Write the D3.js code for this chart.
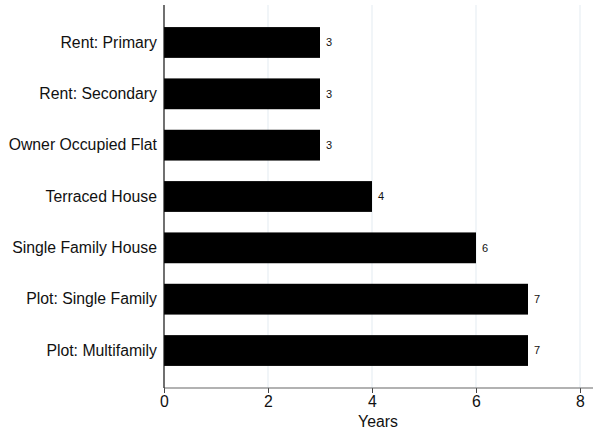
<!DOCTYPE html>
<html>
<head>
<meta charset="utf-8">
<script src="https://cdn.jsdelivr.net/npm/d3@7"></script>
<style>
  body { margin: 0; background: #fff; }
  text { font-family: "Liberation Sans", Arial, sans-serif; fill: #111; }
</style>
</head>
<body>
<svg id="chart" width="594" height="432"></svg>
<script>
// categories and years
var categories = ["Rent: Primary", "Rent: Secondary", "Owner Occupied Flat", "Terraced House",
                  "Single Family House", "Plot: Single Family", "Plot: Multifamily"];
var years = [3, 3, 3, 4, 6, 7, 7];
var xTicks = [0, 2, 4, 6, 8];

var svg = d3.select("#chart");
// plot edges (note: "top" is taken by window.top)
var plotLeft = 164, plotRight = 594, plotTop = 5, plotBottom = 388;

var x = d3.scaleLinear().domain([0, 8]).range([plotLeft, 580]);
var y = d3.scaleBand().domain(categories).range([plotTop, plotBottom])
  .paddingInner(0.4).paddingOuter(0.43);

// light vertical gridlines
svg.append("g").selectAll("line")
  .data(xTicks.filter(function(d) { return d > 0; }))
  .enter().append("line")
  .attr("x1", function(d) { return x(d); })
  .attr("x2", function(d) { return x(d); })
  .attr("y1", plotTop).attr("y2", plotBottom)
  .attr("stroke", "#e8eff3").attr("stroke-width", 1.2);

// bars
svg.append("g").selectAll("rect")
  .data(categories)
  .enter().append("rect")
  .attr("x", x(0))
  .attr("y", function(d) { return y(d); })
  .attr("width", function(d, i) { return x(years[i]) - x(0); })
  .attr("height", y.bandwidth())
  .attr("fill", "#000");

// value labels
svg.append("g").selectAll("text")
  .data(categories)
  .enter().append("text")
  .attr("x", function(d, i) { return x(years[i]) + 6; })
  .attr("y", function(d) { return y(d) + y.bandwidth() / 2; })
  .attr("dy", "0.35em")
  .style("font-size", "11px")
  .text(function(d, i) { return years[i]; });

// x axis
var xAxis = svg.append("g")
  .attr("transform", "translate(0," + plotBottom + ")")
  .call(d3.axisBottom(x).tickValues(xTicks).tickSize(5).tickPadding(3));
xAxis.select(".domain").remove();
xAxis.append("line")
  .attr("x1", plotLeft).attr("x2", 593).attr("y1", 0).attr("y2", 0)
  .attr("stroke", "#666").attr("stroke-width", 1.2);
xAxis.selectAll(".tick line").attr("stroke", "#444");
xAxis.selectAll(".tick text")
  .style("font-size", "15.8px").style("font-family", "Liberation Sans, Arial, sans-serif")
  .attr("fill", "#111");

// y axis
var yAxis = svg.append("g")
  .attr("transform", "translate(" + plotLeft + ",0)")
  .call(d3.axisLeft(y).tickSize(0).tickPadding(7));
yAxis.select(".domain").remove();
yAxis.append("line")
  .attr("x1", 0).attr("x2", 0).attr("y1", plotTop).attr("y2", plotBottom)
  .attr("stroke", "#111").attr("stroke-width", 1.2);
yAxis.selectAll(".tick text")
  .style("font-size", "15.8px").style("font-family", "Liberation Sans, Arial, sans-serif")
  .attr("fill", "#111");

// axis title
svg.append("text")
  .attr("x", (plotLeft + plotRight) / 2 - 1)
  .attr("y", 427)
  .attr("text-anchor", "middle")
  .style("font-size", "15.8px")
  .text("Years");
</script>
</body>
</html>
